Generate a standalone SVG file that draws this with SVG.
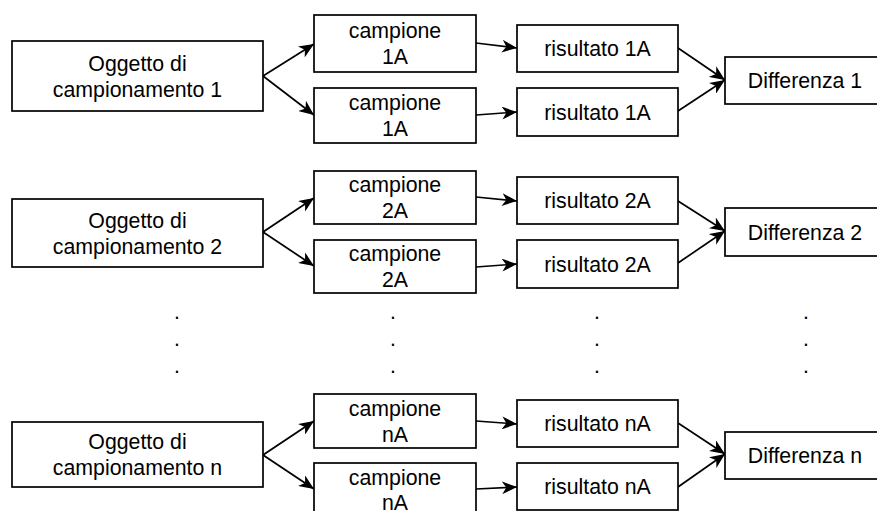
<svg xmlns="http://www.w3.org/2000/svg" width="877" height="511" viewBox="0 0 877 511">
<defs>
<marker id="arr" markerUnits="userSpaceOnUse" viewBox="0 0 14 12" markerWidth="15" markerHeight="13" refX="14" refY="6" orient="auto">
<path d="M14,6 L0,0 L4,6 L0,12 Z" fill="#000"/>
</marker>
<style>
rect{fill:#fff;stroke:#000;stroke-width:1.7}
text{font-family:"Liberation Sans",Arial,sans-serif;font-size:21.3px;text-anchor:middle;fill:#000}
.c line{stroke:#000;stroke-width:1.7;marker-end:url(#arr)}
</style>
</defs>
<rect x="0" y="0" width="877" height="511" style="fill:#fff;stroke:none"/>

<g class="c" id="connectors">
<line x1="263" y1="76" x2="314" y2="44"/>
<line x1="263" y1="76" x2="314" y2="115"/>
<line x1="476" y1="43" x2="517" y2="48"/>
<line x1="476" y1="115" x2="517" y2="112"/>
<line x1="678" y1="48" x2="725" y2="80"/>
<line x1="678" y1="111" x2="725" y2="80"/>

<line x1="263" y1="232" x2="314" y2="198"/>
<line x1="263" y1="232" x2="314" y2="266"/>
<line x1="476" y1="197" x2="517" y2="201"/>
<line x1="476" y1="267" x2="517" y2="264"/>
<line x1="678" y1="201" x2="725" y2="231"/>
<line x1="678" y1="263" x2="725" y2="231"/>

<line x1="263" y1="455" x2="314" y2="421"/>
<line x1="263" y1="455" x2="314" y2="489"/>
<line x1="476" y1="421" x2="517" y2="424"/>
<line x1="476" y1="489" x2="517" y2="487"/>
<line x1="678" y1="423" x2="725" y2="454"/>
<line x1="678" y1="487" x2="725" y2="454"/>
</g>

<g id="oggetto1"><rect x="12" y="41" width="251" height="70"/><text x="137.5" y="70.5">Oggetto di</text><text x="137.5" y="96.5">campionamento 1</text></g>
<g id="campione1a"><rect x="314" y="15" width="162" height="57"/><text x="395" y="38">campione</text><text x="395" y="64">1A</text></g>
<g id="campione1b"><rect x="314" y="88" width="162" height="55"/><text x="395" y="110">campione</text><text x="395" y="136">1A</text></g>
<g id="risultato1a"><rect x="517" y="25" width="161" height="47"/><text x="597.5" y="56">risultato 1A</text></g>
<g id="risultato1b"><rect x="517" y="88" width="161" height="48"/><text x="597.5" y="119.5">risultato 1A</text></g>
<g id="differenza1"><rect x="725" y="57" width="160" height="47"/><text x="805" y="88">Differenza 1</text></g>

<g id="oggetto2"><rect x="12" y="199" width="251" height="68"/><text x="137.5" y="227.5">Oggetto di</text><text x="137.5" y="253.5">campionamento 2</text></g>
<g id="campione2a"><rect x="314" y="171" width="162" height="53"/><text x="395" y="192">campione</text><text x="395" y="218">2A</text></g>
<g id="campione2b"><rect x="314" y="240" width="162" height="53"/><text x="395" y="261">campione</text><text x="395" y="287">2A</text></g>
<g id="risultato2a"><rect x="517" y="177" width="161" height="47"/><text x="597.5" y="208">risultato 2A</text></g>
<g id="risultato2b"><rect x="517" y="240" width="161" height="48"/><text x="597.5" y="271.5">risultato 2A</text></g>
<g id="differenza2"><rect x="725" y="208" width="160" height="48"/><text x="805" y="239.5">Differenza 2</text></g>

<g id="dots">
<text x="177" y="318.5">.</text><text x="177" y="345.5">.</text><text x="177" y="372.5">.</text>
<text x="393" y="318.5">.</text><text x="393" y="345.5">.</text><text x="393" y="372.5">.</text>
<text x="597" y="318.5">.</text><text x="597" y="345.5">.</text><text x="597" y="372.5">.</text>
<text x="806" y="318.5">.</text><text x="806" y="345.5">.</text><text x="806" y="372.5">.</text>
</g>

<g id="oggetton"><rect x="12" y="422" width="251" height="65"/><text x="137.5" y="449">Oggetto di</text><text x="137.5" y="475">campionamento n</text></g>
<g id="campionena"><rect x="314" y="394" width="162" height="54"/><text x="395" y="415.5">campione</text><text x="395" y="441.5">nA</text></g>
<g id="campionenb"><rect x="314" y="463" width="162" height="55"/><text x="395" y="485">campione</text><text x="395" y="510">nA</text></g>
<g id="risultatona"><rect x="517" y="400" width="161" height="47"/><text x="597.5" y="431">risultato nA</text></g>
<g id="risultatonb"><rect x="517" y="463" width="161" height="47"/><text x="597.5" y="494">risultato nA</text></g>
<g id="differenzan"><rect x="725" y="432" width="160" height="47"/><text x="805" y="463">Differenza n</text></g>
</svg>
